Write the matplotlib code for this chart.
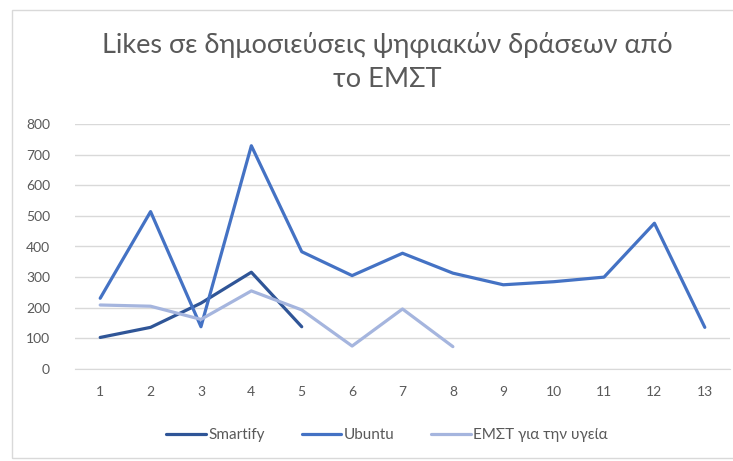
import matplotlib
matplotlib.use("Agg")
import matplotlib.pyplot as plt
from matplotlib.patches import Rectangle

plt.rcParams['font.family'] = ['Lato', 'DejaVu Sans']

categories = [str(i) for i in range(1, 14)]
smartify = [103, 136, 215, 316, 138]
ubuntu = [231, 514, 138, 729, 383, 305, 378, 313, 275, 285, 300, 476, 136]
emst = [209, 205, 162, 255, 193, 75, 196, 73]
yticks = [0, 100, 200, 300, 400, 500, 600, 700, 800]

title = "Likes σε δημοσιεύσεις ψηφιακών δράσεων από\nτο ΕΜΣΤ"
names = ["Smartify", "Ubuntu", "ΕΜΣΤ για την υγεία"]
colors = ["#2F5597", "#4472C4", "#A5B5DE"]

fig = plt.figure(figsize=(7.33, 4.61), dpi=100)
fig.patches.append(Rectangle((12/733, 1-458/461), 1.0, 448/461, transform=fig.transFigure,
                             fill=False, edgecolor="#D9D9D9", linewidth=1.0))
ax = fig.add_axes([75/733, 1-369/461, 655/733, 245/461])

x_all = list(range(1, 14))
for vals, name, c in zip([smartify, ubuntu, emst], names, colors):
    ax.plot(x_all[:len(vals)], vals, color=c, linewidth=2.3, label=name,
            solid_joinstyle='round', solid_capstyle='round')

ax.set_xlim(0.5, 13.5)
ax.set_ylim(0, 800)
ax.set_yticks(yticks)
ax.set_yticklabels([str(v) for v in yticks])
ax.set_xticks(x_all)
ax.set_xticklabels(categories)
ax.grid(axis='y', color='#D9D9D9', linewidth=1.0)
ax.set_axisbelow(True)
for s in ['top', 'right', 'left']:
    ax.spines[s].set_visible(False)
ax.spines['bottom'].set_color('#D9D9D9')
ax.tick_params(axis='both', length=0, colors='#595959', labelsize=10)
ax.tick_params(axis='x', pad=12)
ax.tick_params(axis='y', pad=18)

fig.text(387/733, 1-62/461, title, ha='center', va='center', fontsize=19.5,
         color='#595959', linespacing=1.45)

fig.legend(loc='center', bbox_to_anchor=(387/733, 1-435/461), ncol=3, frameon=False,
           fontsize=11, handlelength=2.6, handletextpad=0.15, columnspacing=2.4,
           labelcolor='#595959')

fig.savefig("out.png", dpi=100)
